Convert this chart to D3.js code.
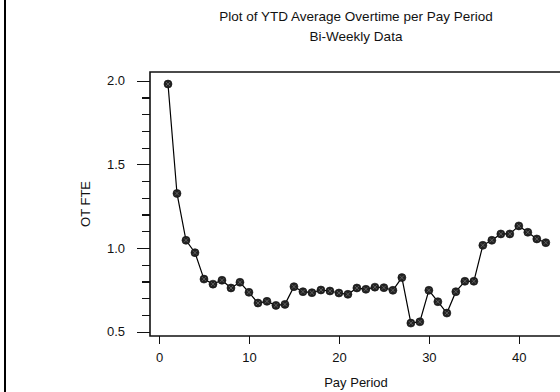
<!DOCTYPE html>
<html lang="en">
<head>
  <meta charset="UTF-8">
  <title>YTD Average Overtime</title>
  <script src="https://d3js.org/d3.v7.min.js"></script>
  <style>
    body { margin: 0; background: #fff; }
    text { font-family: "Liberation Sans", Arial, sans-serif; font-size: 13px; fill: #111; }
    .title { font-size: 13.5px; }
    .axis path { display: none; }
    .axis line { stroke: #111; stroke-width: 1.2; shape-rendering: crispEdges; }
  </style>
</head>
<body>
<svg id="chart" width="560" height="392"></svg>
<script>
  // pay periods and YTD average OT FTE
  const periods = [1, 2, 3, 4, 5, 6, 7, 8, 9, 10, 11, 12, 13, 14, 15, 16, 17, 18, 19, 20, 21, 22,
                   23, 24, 25, 26, 27, 28, 29, 30, 31, 32, 33, 34, 35, 36, 37, 38, 39, 40, 41, 42, 43];
  const otFte = [1.98, 1.326, 1.046, 0.972, 0.814, 0.784, 0.807, 0.761, 0.795, 0.735, 0.671,
                 0.681, 0.657, 0.663, 0.769, 0.739, 0.733, 0.749, 0.743, 0.731, 0.723, 0.761,
                 0.753, 0.766, 0.763, 0.747, 0.823, 0.551, 0.559, 0.747, 0.679, 0.611, 0.739,
                 0.801, 0.801, 1.016, 1.046, 1.084, 1.084, 1.132, 1.094, 1.054, 1.032];
  const xTicks = [0, 10, 20, 30, 40];
  const yTicks = [0.5, 1.0, 1.5, 2.0];
  const yMinor = [0.6, 0.7, 0.8, 0.9, 1.1, 1.2, 1.3, 1.4, 1.6, 1.7, 1.8, 1.9];
  const titleLines = ["Plot of YTD Average Overtime per Pay Period", "Bi-Weekly Data"];

  const data = periods.map((p, i) => ({period: p, value: otFte[i]}));

  const plotLeft = 150, plotRight = 562, plotTop = 72, plotBottom = 336;

  const svg = d3.select("#chart");

  const x = d3.scaleLinear().domain([-1, 44.8]).range([plotLeft, plotRight]);
  const y = d3.scaleLinear().domain([0.474, 2.052]).range([plotBottom, plotTop]);

  // outer border on the left edge of the picture
  svg.append("line")
     .attr("x1", 5).attr("x2", 5).attr("y1", 0).attr("y2", 392)
     .attr("stroke", "#000").attr("stroke-width", 2);

  // title
  svg.selectAll(".title")
     .data(titleLines)
     .enter().append("text")
     .attr("class", "title")
     .attr("x", (plotLeft + plotRight) / 2)
     .attr("y", (d, i) => 21 + i * 20)
     .attr("text-anchor", "middle")
     .text(d => d);

  // minor y ticks
  svg.append("g")
     .attr("class", "axis")
     .attr("transform", "translate(" + plotLeft + ",0)")
     .call(d3.axisLeft(y).tickValues(yMinor).tickSize(8).tickFormat(""));

  // major y ticks
  svg.append("g")
     .attr("class", "axis")
     .attr("transform", "translate(" + plotLeft + ",0)")
     .call(d3.axisLeft(y).tickValues(yTicks).tickSize(13).tickPadding(12).tickFormat(d3.format(".1f")));

  svg.append("g")
     .attr("class", "axis")
     .attr("transform", "translate(0," + plotBottom + ")")
     .call(d3.axisBottom(x).tickValues(xTicks).tickSize(8).tickPadding(9));

  // frame
  svg.append("path")
     .attr("d", "M" + (plotRight + 10) + "," + plotTop + "H" + plotLeft + "V" + plotBottom + "H" + (plotRight + 10))
     .attr("fill", "none")
     .attr("stroke", "#111")
     .attr("stroke-width", 1.6);

  svg.append("text")
     .attr("x", (plotLeft + plotRight) / 2)
     .attr("y", 387)
     .attr("text-anchor", "middle")
     .text("Pay Period");

  svg.append("text")
     .attr("transform", "translate(90," + ((plotTop + plotBottom) / 2) + ") rotate(-90)")
     .attr("text-anchor", "middle")
     .text("OT FTE");

  const line = d3.line()
     .x(d => x(d.period))
     .y(d => y(d.value));

  svg.append("path")
     .datum(data)
     .attr("d", line)
     .attr("fill", "none")
     .attr("stroke", "#000")
     .attr("stroke-width", 1.2);

  const marks = svg.selectAll(".pt")
     .data(data)
     .enter().append("g")
     .attr("class", "pt")
     .attr("transform", d => "translate(" + x(d.period) + "," + y(d.value) + ")");

  marks.append("circle")
     .attr("r", 4)
     .attr("fill", "#222")
     .attr("stroke", "#111")
     .attr("stroke-width", 0.6);

  marks.append("path")
     .attr("d", d3.symbol(d3.symbolX, 12))
     .attr("fill", "none")
     .attr("stroke", "#777")
     .attr("stroke-width", 0.7);
</script>
</body>
</html>
